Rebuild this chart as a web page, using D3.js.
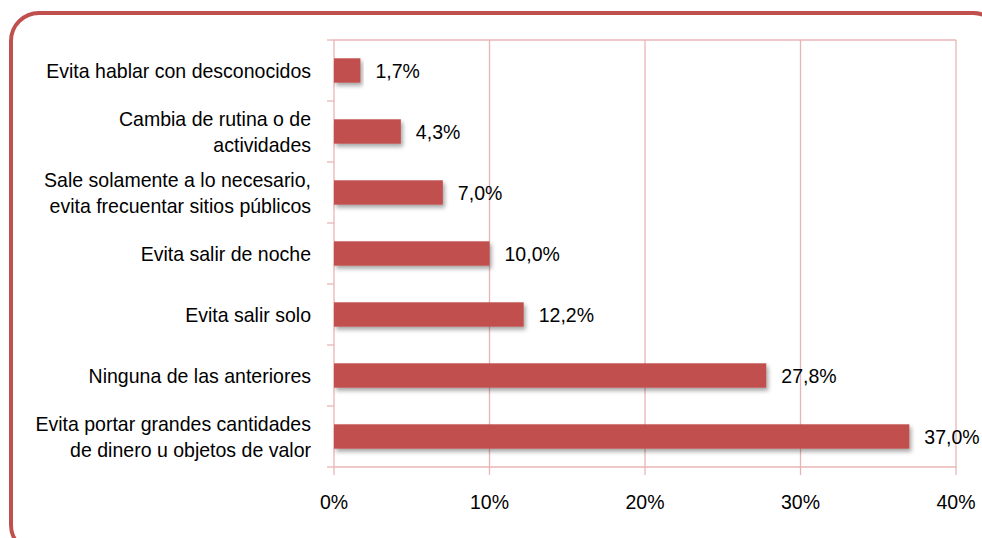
<!DOCTYPE html>
<html>
<head>
<meta charset="utf-8">
<script src="https://cdn.jsdelivr.net/npm/d3@7"></script>
<style>
  body { margin: 0; background: #fff; }
  svg { display: block; font-family: "Liberation Sans", Arial, sans-serif; }
</style>
</head>
<body>
<svg id="chart"></svg>
<script>
const categories = [
  ["Evita hablar con desconocidos"],
  ["Cambia de rutina o de", "actividades"],
  ["Sale solamente a lo necesario,", "evita frecuentar sitios públicos"],
  ["Evita salir de noche"],
  ["Evita salir solo"],
  ["Ninguna de las anteriores"],
  ["Evita portar grandes cantidades", "de dinero u objetos de valor"]
];
const values = [1.7, 4.3, 7.0, 10.0, 12.2, 27.8, 37.0];
const ticks = [0, 10, 20, 30, 40];

const width = 982;
const height = 538;
const red = "#c0504d";
const grid = "#e9b5b4";
const fs = 21;
const sx = 0.93; // text is a bit condensed in the original

const svg = d3.select("#chart")
  .attr("width", width)
  .attr("height", height);

// frame
svg.append("rect")
  .attr("x", 11).attr("y", 13)
  .attr("width", 990).attr("height", 540)
  .attr("rx", 28)
  .attr("fill", "none")
  .attr("stroke", red)
  .attr("stroke-width", 4);

const defs = svg.append("defs");
const shadow = defs.append("filter").attr("id", "shadow")
  .attr("x", "-5%").attr("y", "-30%").attr("width", "115%").attr("height", "180%");
shadow.append("feDropShadow")
  .attr("dx", 2).attr("dy", 3).attr("stdDeviation", 2.2)
  .attr("flood-color", "#000").attr("flood-opacity", 0.35);

const x = d3.scaleLinear().domain([0, 40]).range([334, 956]);
const y = d3.scaleBand()
  .domain(d3.range(categories.length))
  .range([40, 467])
  .paddingInner(0.6)
  .paddingOuter(0.3);

// gridlines
svg.append("g")
  .selectAll("line")
  .data(ticks)
  .join("line")
  .attr("x1", d => x(d)).attr("x2", d => x(d))
  .attr("y1", 40).attr("y2", 475)
  .attr("stroke", grid)
  .attr("stroke-width", 1.3);

// top and bottom borders
[40, 467].forEach(yy => {
  svg.append("line")
    .attr("x1", 334).attr("x2", 956)
    .attr("y1", yy).attr("y2", yy)
    .attr("stroke", grid).attr("stroke-width", 1.3);
});

// left axis ticks at band boundaries
const step = (467 - 40) / categories.length;
svg.append("g")
  .selectAll("line")
  .data(d3.range(categories.length + 1))
  .join("line")
  .attr("x1", 327).attr("x2", 334)
  .attr("y1", d => 40 + d * step).attr("y2", d => 40 + d * step)
  .attr("stroke", grid).attr("stroke-width", 1.3);

// bars
svg.append("g")
  .selectAll("rect")
  .data(values)
  .join("rect")
  .attr("x", x(0))
  .attr("y", (d, i) => y(i))
  .attr("width", d => x(d) - x(0))
  .attr("height", y.bandwidth())
  .attr("fill", red)
  .attr("filter", "url(#shadow)");

// value labels
svg.append("g")
  .selectAll("text")
  .data(values)
  .join("text")
  .attr("transform", (d, i) => `translate(${x(d) + 15},${y(i) + y.bandwidth() / 2}) scale(${sx},1)`)
  .attr("dy", "0.35em")
  .attr("font-size", fs)
  .attr("fill", "#000")
  .text(d => d.toFixed(1).replace(".", ",") + "%");

// category labels
const lab = svg.append("g")
  .selectAll("text")
  .data(categories)
  .join("text")
  .attr("text-anchor", "end")
  .attr("font-size", fs)
  .attr("fill", "#000")
  .attr("transform", (d, i) => `translate(311,${y(i) + y.bandwidth() / 2}) scale(${sx},1)`);
lab.selectAll("tspan")
  .data(d => d.map((t, j) => ({ t, j, n: d.length })))
  .join("tspan")
  .attr("x", 0)
  .attr("y", d => (d.j - (d.n - 1) / 2) * 26)
  .attr("dy", "0.35em")
  .text(d => d.t);

// x tick labels
svg.append("g")
  .selectAll("text")
  .data(ticks)
  .join("text")
  .attr("transform", d => `translate(${x(d)},509) scale(${sx},1)`)
  .attr("text-anchor", "middle")
  .attr("font-size", fs)
  .attr("fill", "#000")
  .text(d => d + "%");
</script>
</body>
</html>
